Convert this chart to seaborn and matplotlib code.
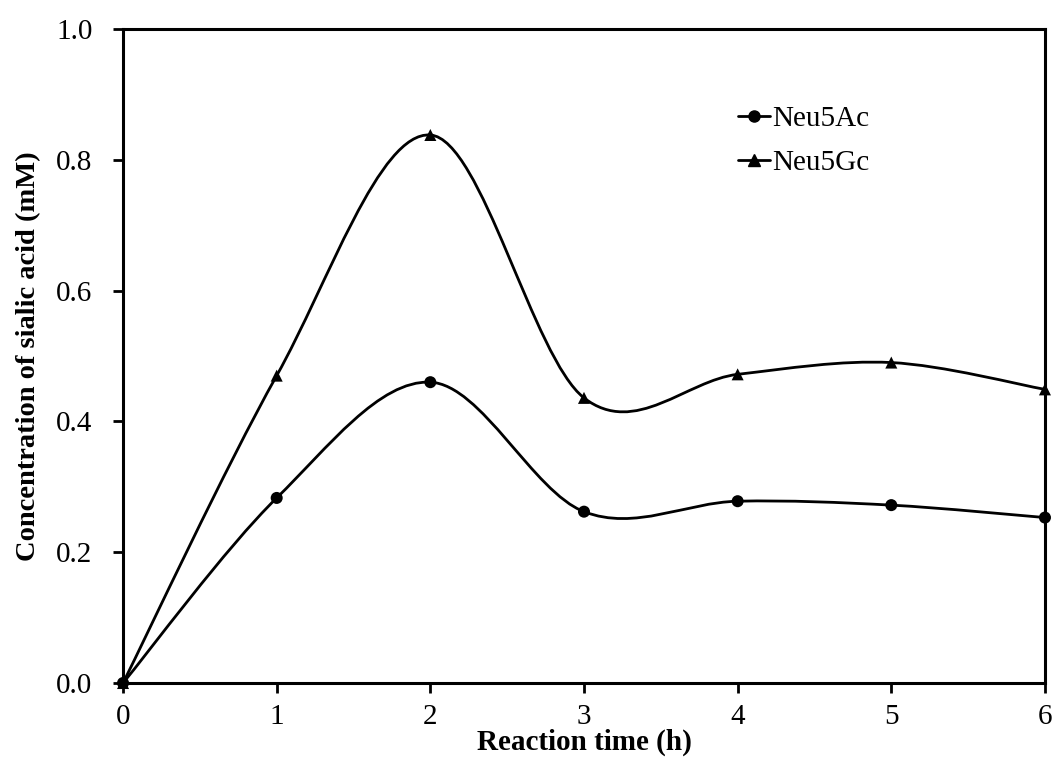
import numpy as np
import matplotlib
matplotlib.use("Agg")
import matplotlib.pyplot as plt
import seaborn as sns
import pandas as pd
from matplotlib.path import Path
from matplotlib.patches import PathPatch
from matplotlib.lines import Line2D

time_h = [0, 1, 2, 3, 4, 5, 6]
neu5ac = [0.0, 0.283, 0.460, 0.262, 0.278, 0.272, 0.253]
neu5gc = [0.0, 0.470, 0.838, 0.436, 0.472, 0.490, 0.449]
series_names = ["Neu5Ac", "Neu5Gc"]
x_ticks = [0, 1, 2, 3, 4, 5, 6]
y_ticks = [0.0, 0.2, 0.4, 0.6, 0.8, 1.0]

sns.set_theme(style="ticks")
plt.rcParams["font.family"] = ["Liberation Serif", "DejaVu Serif"]
plt.rcParams["text.color"] = "black"
plt.rcParams["axes.labelcolor"] = "black"

FS = 21

fig = plt.figure(figsize=(10.57, 7.60), dpi=100)
ax = fig.add_axes([0.1164, 0.1013, 0.8722, 0.8605])

df = pd.DataFrame({
    "time": time_h * 2,
    "conc": neu5ac + neu5gc,
    "series": [series_names[0]] * len(time_h) + [series_names[1]] * len(time_h),
})


def smooth_path(xs, ys):
    # Excel-style smoothed line: cubic Bezier segments through the points
    pts = np.column_stack([xs, ys]).astype(float)
    n = len(pts)
    verts = [tuple(pts[0])]
    codes = [Path.MOVETO]
    for i in range(n - 1):
        p0 = pts[i - 1] if i > 0 else pts[i]
        p1 = pts[i]
        p2 = pts[i + 1]
        p3 = pts[i + 2] if i + 2 < n else pts[i + 1]
        c1 = p1 + (p2 - p0) / 6.0
        c2 = p2 - (p3 - p1) / 6.0
        verts += [tuple(c1), tuple(c2), tuple(p2)]
        codes += [Path.CURVE4] * 3
    return Path(verts, codes)


for name in series_names:
    sub = df[df["series"] == name]
    ax.add_patch(PathPatch(smooth_path(sub["time"].values, sub["conc"].values),
                           facecolor="none", edgecolor="black", lw=2.0,
                           zorder=2, clip_on=False))

sns.scatterplot(data=df, x="time", y="conc", style="series",
                markers={"Neu5Ac": "o", "Neu5Gc": "^"},
                color="black", s=75, edgecolor="black", linewidth=0,
                legend=False, ax=ax, zorder=3, clip_on=False)

ax.set_xlim(0, 6)
ax.set_ylim(0, 1.0)
ax.set_xticks(x_ticks)
ax.set_yticks(y_ticks)
ax.set_xticklabels([str(t) for t in x_ticks])
ax.set_yticklabels([f"{t:.1f}" for t in y_ticks])
ax.tick_params(axis="both", direction="out", length=7, width=2,
               labelsize=FS, colors="black")
ax.tick_params(axis="y", pad=15)
ax.tick_params(axis="x", pad=8)
for sp in ax.spines.values():
    sp.set_linewidth(2.2)
    sp.set_color("black")
    sp.set_visible(True)

ax.set_xlabel("Reaction time (h)", fontsize=FS, fontweight="bold", labelpad=-1)
ax.set_ylabel("Concentration of sialic acid (mM)", fontsize=20.5,
              fontweight="bold", labelpad=11)

handles = [
    Line2D([0], [0], color="black", lw=2, marker="o", markersize=8),
    Line2D([0], [0], color="black", lw=2, marker="^", markersize=8),
]
ax.legend(handles, series_names, loc="upper left", bbox_to_anchor=(0.654, 0.901),
          frameon=False, fontsize=FS, handlelength=1.1, handletextpad=0.08,
          labelspacing=0.6, borderaxespad=0)

fig.savefig("out.png", dpi=100)
